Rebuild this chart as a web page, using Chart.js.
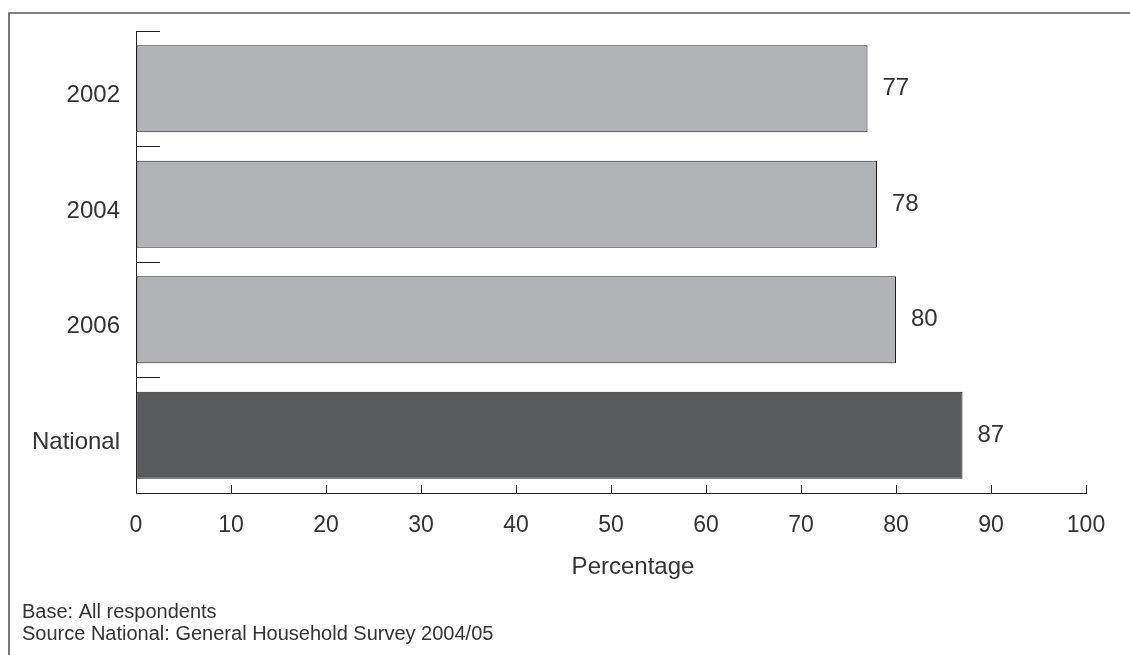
<!DOCTYPE html>
<html>
<head>
<meta charset="utf-8">
<script src="https://cdn.jsdelivr.net/npm/chart.js@4/dist/chart.umd.min.js"></script>
<style>
  html, body { margin: 0; padding: 0; background: #ffffff; }
  #wrap { width: 1130px; height: 655px; position: relative; }
</style>
</head>
<body>
<div id="wrap"><canvas id="chart" width="1130" height="655"></canvas></div>
<script>
// Survey years and the national comparison
const categories = ['2002', '2004', '2006', 'National'];
const percentages = [77, 78, 80, 87];
const barColors = ['#b1b3b6', '#b1b3b6', '#b1b3b6', '#58595b'];
const xTickValues = [0, 10, 20, 30, 40, 50, 60, 70, 80, 90, 100];
const axisTitle = 'Percentage';
const footnotes = ['Base: All respondents', 'Source National: General Household Survey 2004/05'];

const FONT = '"Liberation Sans", Arial, Helvetica, sans-serif';
const INK = '#333333';

// Outer frame, value labels, axis title and footnotes
const decorations = {
  id: 'decorations',
  beforeDraw(chart) {
    const ctx = chart.ctx;
    ctx.save();
    ctx.strokeStyle = '#555555';
    ctx.lineWidth = 1.6;
    ctx.beginPath();
    ctx.moveTo(9, chart.height);
    ctx.lineTo(9, 13);
    ctx.lineTo(chart.width, 13);
    ctx.stroke();
    ctx.restore();
  },
  afterDraw(chart) {
    const ctx = chart.ctx;
    ctx.save();
    ctx.fillStyle = INK;
    ctx.font = '24px ' + FONT;
    ctx.textAlign = 'left';
    ctx.textBaseline = 'middle';
    const meta = chart.getDatasetMeta(0);
    meta.data.forEach((bar, i) => {
      ctx.fillText(String(percentages[i]), bar.x + 15, bar.y);
    });

    const xs = chart.scales.x;
    ctx.textAlign = 'center';
    ctx.textBaseline = 'alphabetic';
    ctx.fillText(axisTitle, (xs.left + xs.right) / 2 + 22, 574);

    ctx.font = '20px ' + FONT;
    ctx.textAlign = 'left';
    footnotes.forEach((line, i) => {
      ctx.fillText(line, 22, 618 + i * 22);
    });
    ctx.restore();
  }
};

new Chart(document.getElementById('chart'), {
  type: 'bar',
  data: {
    labels: categories,
    datasets: [{
      data: percentages,
      backgroundColor: barColors,
      borderColor: '#231f20',
      borderWidth: 1,
      borderSkipped: false,
      categoryPercentage: 1,
      barPercentage: 0.752
    }]
  },
  options: {
    indexAxis: 'y',
    responsive: false,
    animation: false,
    layout: { padding: { left: 10, right: 44, top: 31, bottom: 0 } },
    plugins: {
      legend: { display: false },
      tooltip: { enabled: false }
    },
    scales: {
      x: {
        type: 'linear',
        min: 0,
        max: 100,
        afterBuildTicks(scale) {
          scale.ticks = xTickValues.map(v => ({ value: v }));
        },
        afterFit(scale) {
          scale.height = 162;
          scale.paddingLeft = 0;
          scale.paddingRight = 0;
        },
        border: { display: true, color: '#231f20', width: 1 },
        grid: {
          display: true,
          drawOnChartArea: false,
          drawTicks: true,
          tickLength: -8,
          color: '#231f20',
          lineWidth: 1
        },
        ticks: {
          padding: 27,
          color: INK,
          font: { family: FONT, size: 23 },
          maxRotation: 0,
          autoSkip: false
        }
      },
      y: {
        afterFit(scale) {
          scale.width = 126;
          scale.paddingTop = 0;
          scale.paddingBottom = 0;
        },
        border: { display: true, color: '#231f20', width: 1 },
        grid: {
          display: true,
          offset: true,
          drawOnChartArea: false,
          drawTicks: true,
          tickLength: -24,
          color: '#231f20',
          lineWidth: 1
        },
        ticks: {
          padding: 40,
          labelOffset: 7,
          color: INK,
          font: { family: FONT, size: 24 }
        }
      }
    }
  },
  plugins: [decorations]
});
</script>
</body>
</html>
